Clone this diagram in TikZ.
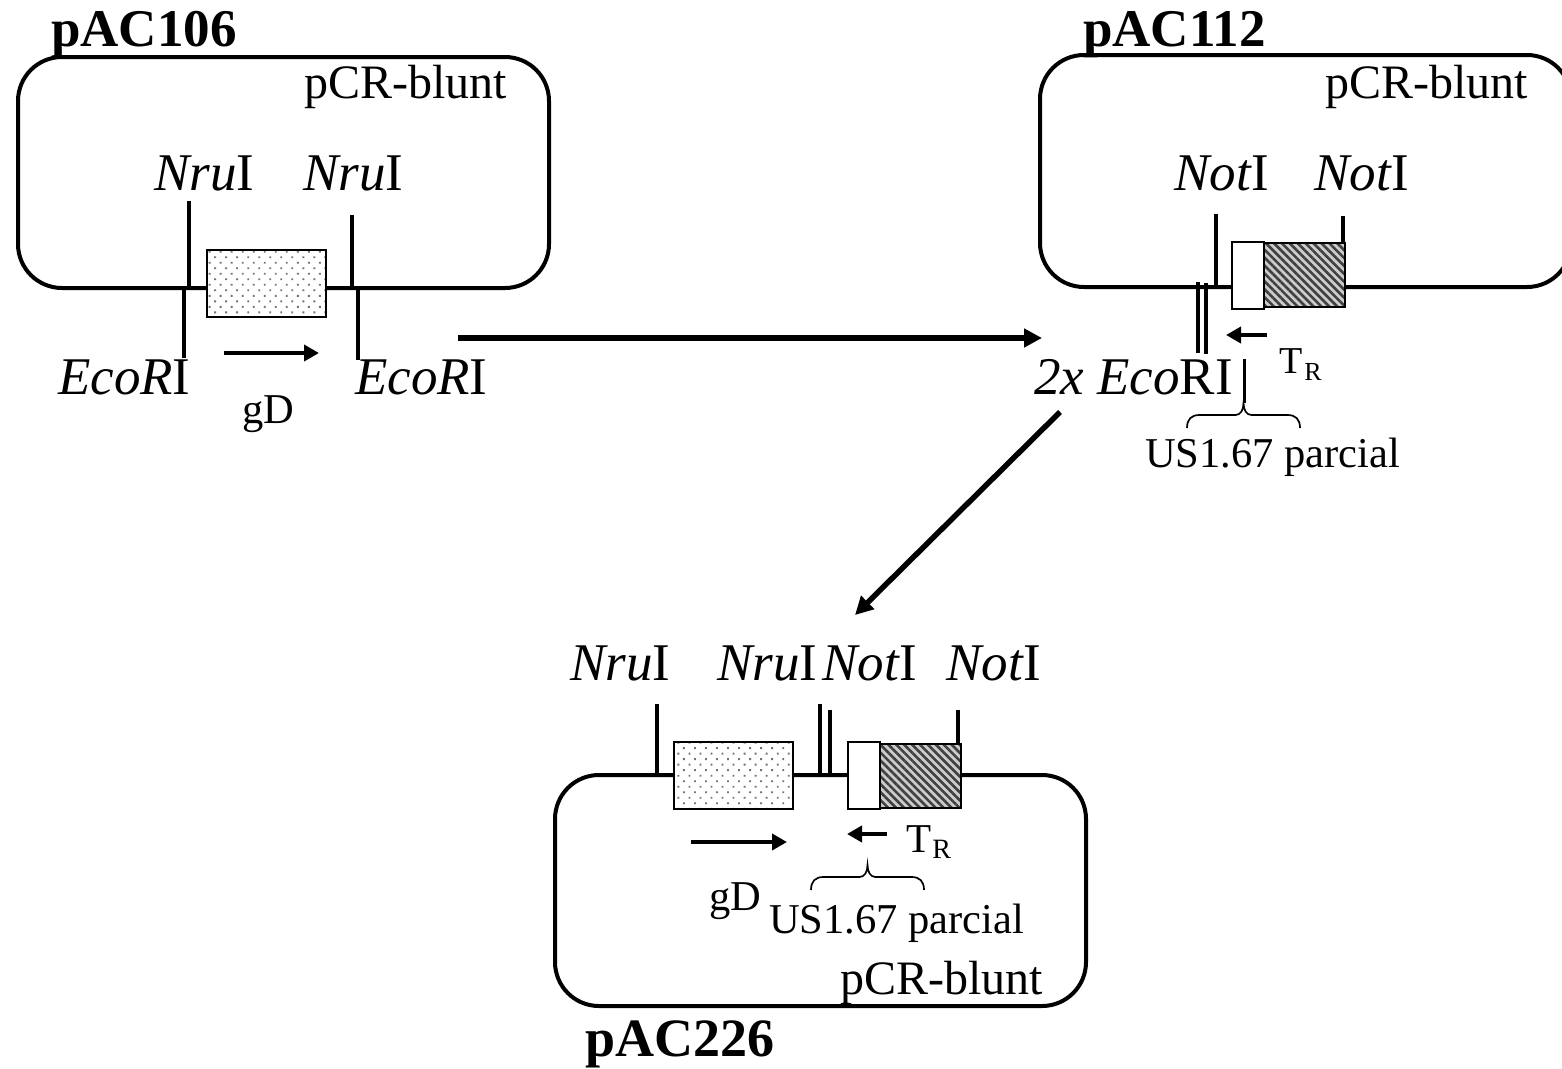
\documentclass[tikz,border=0pt]{standalone}
\usepackage{fontspec}
\setmainfont{Liberation Serif}
\usetikzlibrary{arrows.meta, patterns.meta}
\tikzset{
  plasmid/.style={draw, line width=4pt, rounded corners=44pt, minimum width=531pt, inner sep=0pt},
  dotted gene/.style={draw, line width=2.2pt, anchor=north west, inner sep=0pt, outer sep=0pt, minimum width=119pt, minimum height=67pt,
    preaction={fill=white}, pattern={Dots[distance=7.8pt, angle=45, radius=1.3pt]}, pattern color=black!55},
  hatched gene/.style={draw, line width=2.2pt, anchor=north west, inner sep=0pt, outer sep=0pt, minimum width=82pt, minimum height=64pt,
    preaction={fill=black!20}, pattern={Lines[distance=5.6pt, angle=-45, line width=2.6pt]}, pattern color=black!75},
  blank gene/.style={draw, line width=2.2pt, fill=white, anchor=north west, inner sep=0pt, outer sep=0pt, minimum width=32pt, minimum height=67pt},
  site/.style={line width=3.7pt},
  feed/.style={line width=4pt, -{Triangle[length=15pt, width=16pt]}},
  step arrow/.style={line width=5.5pt, -{Triangle[length=18pt, width=18pt]}},
  curly/.pic={
    \draw[line width=1.7pt] (-56.5,0) .. controls (-56.5,-9) and (-52,-13) .. (-44,-13) -- (-8,-13)
      .. controls (-3,-13) and (0,-18) .. (0,-25)
      .. controls (0,-18) and (3,-13) .. (8,-13) -- (44,-13)
      .. controls (52,-13) and (56.5,-9) .. (56.5,0);
  },
  lbl/.style={inner sep=0pt, anchor=base west, font=\fontsize{53}{54}\selectfont},
  vec/.style={inner sep=0pt, anchor=base west, font=\fontsize{48}{50}\selectfont},
  note/.style={inner sep=0pt, anchor=base west, font=\fontsize{42.5}{44}\selectfont},
  title/.style={inner sep=0pt, anchor=base west, font=\fontsize{53}{55}\selectfont\bfseries},
}
\begin{document}
\begin{tikzpicture}[x=1pt,y=-1pt]
\useasboundingbox (0,0) rectangle (1562,1068);
% pAC106
\node[plasmid, minimum height=231pt] (boxA) at (283.5,172.5) {};
\node[title] (nameA) at (51,46) {pAC106};
\node[vec] (vecA) at (304,98) {pCR-blunt};
\node[lbl] (nruAa) at (154,190) {\textit{Nru}I};
\node[lbl] (nruAb) at (303,190) {\textit{Nru}I};
\coordinate (nruAatop) at (189,201);
\coordinate (nruAabot) at (189,288);
\coordinate (nruAbtop) at (352,215);
\coordinate (nruAbbot) at (352,288);
\coordinate (ecoAatop) at (184,288);
\coordinate (ecoAabot) at (184,358);
\coordinate (ecoAbtop) at (358,288);
\coordinate (ecoAbbot) at (358,360);
\draw[site] (nruAatop) -- (nruAabot);
\draw[site] (nruAbtop) -- (nruAbbot);
\draw[site] (ecoAatop) -- (ecoAabot);
\draw[site] (ecoAbtop) -- (ecoAbbot);
\node[dotted gene] (geneA) at (207,250) {};
\coordinate (gdAa) at (224,353);
\coordinate (gdAb) at (319,353);
\draw[feed] (gdAa) -- (gdAb);
\node[lbl] (ecoAa) at (58,394) {\textit{EcoR}I};
\node[lbl] (ecoAb) at (355,394) {\textit{EcoR}I};
\node[note] (gdA) at (242,423) {gD};
% pAC112
\node[plasmid, minimum height=232pt] (boxB) at (1305.5,171) {};
\node[title] (nameB) at (1083,46) {pAC112};
\node[vec] (vecB) at (1325,98) {pCR-blunt};
\node[lbl] (notBa) at (1174,190) {\textit{Not}I};
\node[lbl] (notBb) at (1314,190) {\textit{Not}I};
\coordinate (notBatop) at (1216,214);
\coordinate (notBabot) at (1216,287);
\coordinate (notBbtop) at (1343,216);
\coordinate (notBbbot) at (1343,243);
\coordinate (ecoBatop) at (1198,282);
\coordinate (ecoBabot) at (1198,353);
\coordinate (ecoBbtop) at (1206,283);
\coordinate (ecoBbbot) at (1206,354);
\draw[site] (notBatop) -- (notBabot);
\draw[site] (notBbtop) -- (notBbbot);
\draw[site] (ecoBatop) -- (ecoBabot);
\draw[site] (ecoBbtop) -- (ecoBbbot);
\node[hatched gene] (geneB) at (1263,243) {};
\node[blank gene] (utrB) at (1232,242) {};
\coordinate (trBa) at (1267,335);
\coordinate (trBb) at (1226,335);
\draw[feed] (trBa) -- (trBb);
\node[lbl] (ecoB) at (1034,394) {\textit{2x Eco}RI};
\node[note, font=\fontsize{38}{40}\selectfont] (trB) at (1279,373) {T\kern2pt\raisebox{-7pt}{\fontsize{26}{28}\selectfont R}};
\coordinate (usBtip) at (1244,403);
\coordinate (usBtop) at (1244,359);
\draw[line width=3pt] (usBtop) -- (usBtip);
\pic (usBbrace) at (1243.5,428) {curly};
\node[note] (usB) at (1145,467) {US1.67 parcial};
% pAC226
\node[plasmid, minimum height=231pt] (boxC) at (820.5,890.5) {};
\node[lbl] (nruCa) at (570,680) {\textit{Nru}I};
\node[lbl] (nruCb) at (717,680) {\textit{Nru}I};
\node[lbl] (notCa) at (822,680) {\textit{Not}I};
\node[lbl] (notCb) at (946,680) {\textit{Not}I};
\coordinate (nruCatop) at (657,704);
\coordinate (nruCabot) at (657,775);
\coordinate (nruCbtop) at (820,704);
\coordinate (nruCbbot) at (820,775);
\coordinate (notCatop) at (830,710);
\coordinate (notCabot) at (830,775);
\coordinate (notCbtop) at (958,710);
\coordinate (notCbbot) at (958,745);
\draw[site] (nruCatop) -- (nruCabot);
\draw[site] (nruCbtop) -- (nruCbbot);
\draw[site] (notCatop) -- (notCabot);
\draw[site] (notCbtop) -- (notCbbot);
\node[dotted gene] (geneC) at (674,742) {};
\node[hatched gene, minimum width=83pt] (geneCb) at (878,744) {};
\node[blank gene] (utrC) at (848,742) {};
\coordinate (gdCa) at (691,842);
\coordinate (gdCb) at (787,842);
\draw[feed] (gdCa) -- (gdCb);
\coordinate (trCa) at (887,834);
\coordinate (trCb) at (847,834);
\draw[feed] (trCa) -- (trCb);
\node[note, font=\fontsize{41}{43}\selectfont] (trC) at (906,852) {T\kern1pt\raisebox{-6pt}{\fontsize{28}{29}\selectfont R}};
\pic (usCbrace) at (867.5,890) {curly};
\node[note] (gdC) at (709,910) {gD};
\node[note] (usC) at (769,933) {US1.67 parcial};
\node[vec] (vecC) at (840,994) {pCR-blunt};
\node[title, font=\fontsize{54}{55}\selectfont\bfseries] (nameC) at (585,1056) {pAC226};
% steps
\coordinate (stepa) at (458,338);
\coordinate (stepb) at (1042,338);
\draw[step arrow] (stepa) -- (stepb);
\coordinate (stepc) at (1060,412);
\coordinate (stepd) at (855,615);
\draw[step arrow] (stepc) -- (stepd);
\end{tikzpicture}
\end{document}
